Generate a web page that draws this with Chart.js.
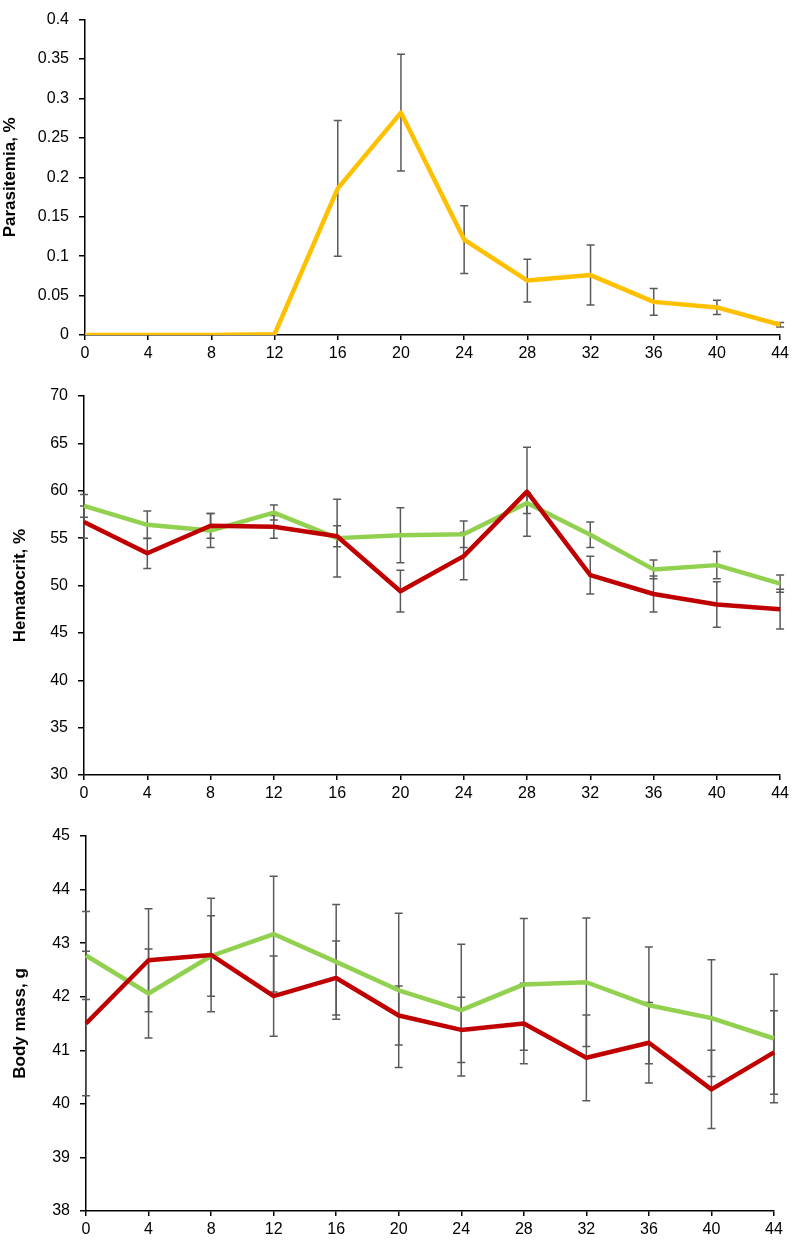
<!DOCTYPE html>
<html lang="en">
<head>
<meta charset="UTF-8">
<style>
body {
    margin: 0;
    background: #fff;
    font-family: "Liberation Sans", Arial, sans-serif;
}
.panel {
    position: absolute;
    left: 0;
    width: 793px;
}
</style>
</head>
<body>
<div class="panel" style="top:0;height:365px"><canvas id="parasitemia" width="793" height="365"></canvas></div>
<div class="panel" style="top:360px;height:440px"><canvas id="hematocrit" width="793" height="440"></canvas></div>
<div class="panel" style="top:800px;height:441px"><canvas id="bodymass" width="793" height="441"></canvas></div>
<script src="https://cdn.jsdelivr.net/npm/chart.js"></script>
<script>
// days post infection
const days = [0, 4, 8, 12, 16, 20, 24, 28, 32, 36, 40, 44];

const parasitemia = [0, 0, 0, 0.001, 0.186, 0.282, 0.121, 0.069, 0.076, 0.042, 0.035, 0.013];
const parasitemiaErr = [0, 0, 0, 0, 0.086, 0.074, 0.043, 0.027, 0.038, 0.017, 0.009, 0.003];

const hematocritRed = [56.7, 53.4, 56.3, 56.2, 55.2, 49.4, 53.1, 59.9, 51.1, 49.1, 48.0, 47.5];
const hematocritRedErr = [1.7, 1.6, 1.3, 1.2, 1.1, 2.2, 2.5, 4.7, 2.0, 1.9, 2.4, 2.1];
const hematocritGreen = [58.4, 56.4, 55.8, 57.7, 55.0, 55.3, 55.4, 58.7, 55.35, 51.7, 52.15, 50.2];
const hematocritGreenErr = [1.2, 1.45, 1.8, 0.8, 4.1, 2.9, 1.4, 1.1, 1.35, 1.0, 1.45, 0.9];

const bodyRed = [41.5, 42.68, 42.78, 42.01, 42.35, 41.65, 41.38, 41.5, 40.86, 41.14, 40.27, 40.96];
const bodyRedErr = [1.35, 0.96, 1.06, 0.75, 0.69, 0.55, 0.61, 0.75, 0.8, 0.75, 0.73, 0.78];
const bodyGreen = [42.77, 42.06, 42.76, 43.17, 42.65, 42.12, 41.75, 42.23, 42.27, 41.84, 41.6, 41.22];
const bodyGreenErr = [0.82, 0.83, 0.75, 1.08, 1.07, 1.44, 1.23, 1.23, 1.2, 1.09, 1.09, 1.2];

const YELLOW = '#FFC000';
const RED = '#C00000';
const GREEN = '#92D050';

// draws symmetric error bars from dataset.errorBars, using the chart's own scales
const errorBarPlugin = {
    id: 'errorBars',
    beforeDatasetsDraw(chart) {
        const ctx = chart.ctx;
        const yScale = chart.scales.y;
        ctx.save();
        ctx.strokeStyle = '#5a5a5a';
        ctx.lineWidth = 1.5;
        chart.data.datasets.forEach((ds, i) => {
            if (!ds.errorBars) return;
            const meta = chart.getDatasetMeta(i);
            meta.data.forEach((pt, j) => {
                const err = ds.errorBars[j];
                if (!err) return;
                const top = yScale.getPixelForValue(ds.data[j] + err);
                const bot = yScale.getPixelForValue(ds.data[j] - err);
                ctx.beginPath();
                ctx.moveTo(pt.x, top);
                ctx.lineTo(pt.x, bot);
                ctx.moveTo(pt.x - 4, top);
                ctx.lineTo(pt.x + 4, top);
                ctx.moveTo(pt.x - 4, bot);
                ctx.lineTo(pt.x + 4, bot);
                ctx.stroke();
            });
        });
        ctx.restore();
    }
};

function series(data, err, color) {
    return {
        data: data,
        errorBars: err,
        borderColor: color,
        backgroundColor: color,
        borderWidth: 4.5,
        borderJoinStyle: 'round',
        pointRadius: 0,
        tension: 0
    };
}

function makeChart(id, datasets, opts) {
    return new Chart(document.getElementById(id), {
        type: 'line',
        data: { labels: days, datasets: datasets },
        options: {
            responsive: false,
            animation: false,
            layout: { padding: opts.padding },
            scales: {
                x: {
                    offset: false,
                    grid: { display: true, drawOnChartArea: false, drawTicks: true, tickLength: 5, color: '#000', lineWidth: 1.5 },
                    border: { color: '#000', width: 1.5 },
                    ticks: { color: '#000', padding: 4, maxRotation: 0, autoSkip: false, font: { family: 'Liberation Sans', size: 16 } },
                    afterFit(s) { s.height = 25; }
                },
                y: {
                    min: opts.min,
                    max: opts.max,
                    grid: { display: true, drawOnChartArea: false, drawTicks: true, tickLength: 6, color: '#000', lineWidth: 1.5 },
                    border: { color: '#000', width: 1.5 },
                    ticks: {
                        stepSize: opts.step,
                        color: '#000',
                        padding: 10,
                        font: { family: 'Liberation Sans', size: 16 },
                        callback: v => +v.toFixed(2)
                    },
                    title: {
                        display: true,
                        text: opts.title,
                        color: '#000',
                        padding: { top: opts.titlePad, bottom: 0 },
                        font: { family: 'Liberation Sans', size: 17, weight: 'bold' }
                    },
                    afterFit(s) { s.width = opts.yWidth; }
                }
            },
            plugins: {
                legend: { display: false },
                tooltip: { enabled: false }
            }
        },
        plugins: [errorBarPlugin]
    });
}

makeChart('parasitemia', [series(parasitemia, parasitemiaErr, YELLOW)], {
    min: 0, max: 0.4, step: 0.05, title: 'Parasitemia, %', titlePad: 0, yWidth: 85,
    padding: { top: 10, right: 10, bottom: 5, left: 0 }
});

makeChart('hematocrit', [
    series(hematocritRed, hematocritRedErr, RED),
    series(hematocritGreen, hematocritGreenErr, GREEN)
], {
    min: 30, max: 70, step: 5, title: 'Hematocrit, %', titlePad: 10, yWidth: 84,
    padding: { top: 36, right: 9, bottom: 0, left: 0 }
});

makeChart('bodymass', [
    series(bodyRed, bodyRedErr, RED),
    series(bodyGreen, bodyGreenErr, GREEN)
], {
    min: 38, max: 45, step: 1, title: 'Body mass, g', titlePad: 10, yWidth: 86,
    padding: { top: 36, right: 19, bottom: 5, left: 0 }
});
</script>
</body>
</html>
